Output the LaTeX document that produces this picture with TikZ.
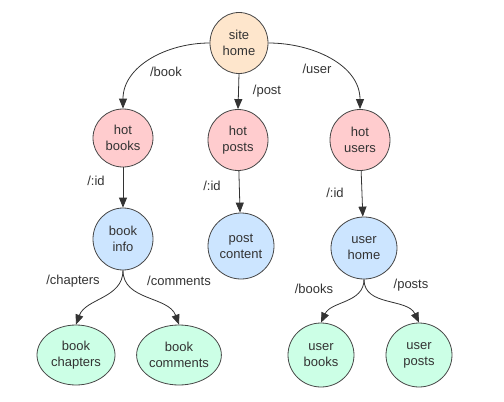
\documentclass[tikz,border=0pt]{standalone}
\usepackage{fontspec}
\setmainfont{Liberation Sans}
\usetikzlibrary{shapes.geometric,arrows.meta}
\definecolor{peach}{RGB}{254,230,204}
\definecolor{pinkf}{RGB}{255,204,206}
\definecolor{bluef}{RGB}{204,229,255}
\definecolor{greenf}{RGB}{204,255,230}
\definecolor{stroke}{RGB}{70,70,70}
\definecolor{txt}{RGB}{51,51,51}
\tikzset{
  page/.style={x=1pt,y=1pt},
  nd/.style={ellipse,draw=stroke,line width=0.8pt,inner sep=0pt,align=center,
    font=\fontsize{13}{16}\selectfont,text=txt},
  lbl/.style={font=\fontsize{13}{16}\selectfont,text=txt,inner sep=0pt},
  conn/.style={draw=txt,line width=0.8pt,-{Triangle[length=10pt,width=8pt]}},
}
\begin{document}
\begin{tikzpicture}[page]
\useasboundingbox (0,0) rectangle (504,-402);
\node[nd,fill=peach,minimum width=58pt,minimum height=61pt] (sh) at (239,-43) {site\\home};
\node[nd,fill=pinkf,minimum width=60pt,minimum height=58pt] (hb) at (123,-138) {hot\\books};
\node[nd,fill=pinkf,minimum width=60pt,minimum height=61pt] (hp) at (238,-140) {hot\\posts};
\node[nd,fill=pinkf,minimum width=60pt,minimum height=61pt] (hu) at (360,-140) {hot\\users};
\node[nd,fill=bluef,minimum width=60pt,minimum height=62pt] (bi) at (123,-239) {book\\info};
\node[nd,fill=bluef,minimum width=66pt,minimum height=66pt] (pc) at (241,-246) {post\\content};
\node[nd,fill=bluef,minimum width=66pt,minimum height=62pt] (uh) at (364,-248) {user\\home};
\node[nd,fill=greenf,minimum width=78pt,minimum height=60pt] (bc) at (76,-355) {book\\chapters};
\node[nd,fill=greenf,minimum width=84pt,minimum height=60pt] (bm) at (179,-355) {book\\comments};
\node[nd,fill=greenf,minimum width=66pt,minimum height=64pt] (ub) at (321,-355) {user\\books};
\node[nd,fill=greenf,minimum width=66pt,minimum height=64pt] (up) at (419,-355) {user\\posts};

\draw[conn] (sh.west) to[out=180,in=90] (hb.north);
\draw[conn] (sh.south) -- (hp.north);
\draw[conn] (sh.east) to[out=0,in=90] (hu.north);
\draw[conn] (hb) -- (bi);
\draw[conn] (hp) -- (pc);
\draw[conn] (hu) -- (uh);
\draw[conn] (bi.south) to[out=-90,in=70] (bc.north);
\draw[conn] (bi.south) to[out=-90,in=110] (bm.north);
\draw[conn] (uh.south) to[out=-90,in=65] (ub.north);
\draw[conn] (uh.south) to[out=-90,in=115] (up.north);

\node[lbl] (l1) at (166,-72) {/book};
\node[lbl] (l2) at (267,-91) {/post};
\node[lbl] (l3) at (317,-69) {/user};
\node[lbl] (l4) at (96,-181) {/:id};
\node[lbl] (l5) at (212,-186) {/:id};
\node[lbl] (l6) at (335,-193) {/:id};
\node[lbl] (l7) at (73,-281) {/chapters};
\node[lbl] (l8) at (179,-281) {/comments};
\node[lbl] (l9) at (314,-289) {/books};
\node[lbl] (l10) at (411,-285) {/posts};
\end{tikzpicture}
\end{document}
